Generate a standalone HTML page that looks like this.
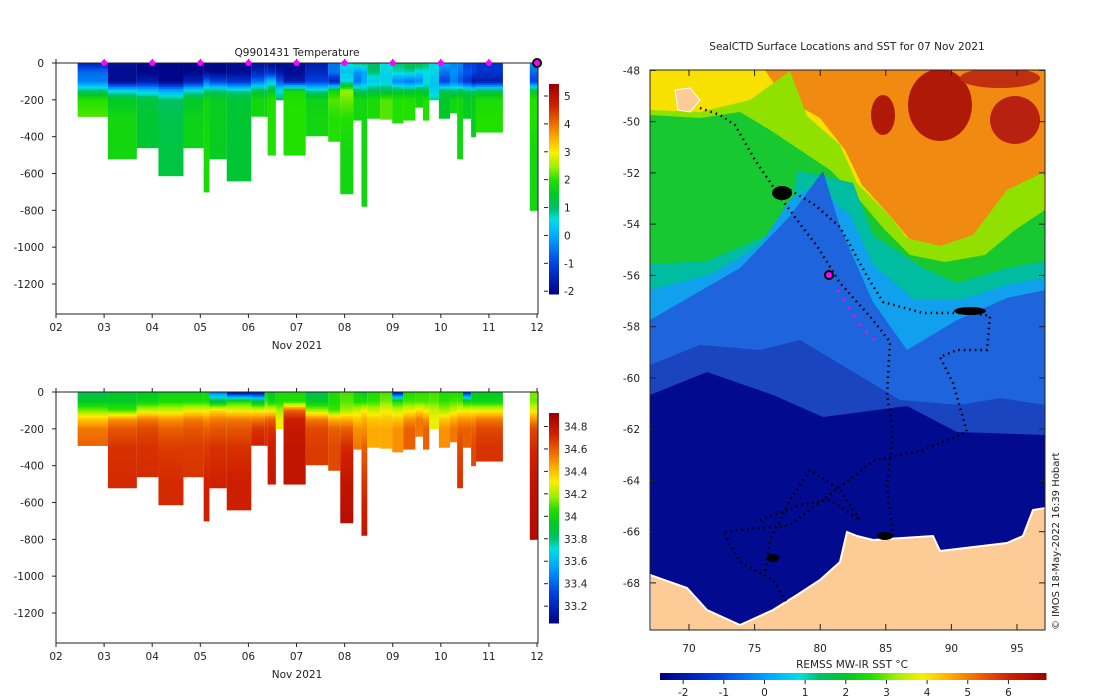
<!DOCTYPE html>
<html><head><meta charset="utf-8">
<style>
html,body{margin:0;padding:0;background:#fff;}
svg{display:block;font-family:"DejaVu Sans","Liberation Sans",sans-serif;}
text{font-size:10.5px;fill:#222;}
</style></head>
<body>
<svg id="root" width="1100" height="700" viewBox="0 0 1100 700">
<g id="map">
  <clipPath id="mapclip"><rect x="650" y="70" width="395" height="560"/></clipPath>
  <g clip-path="url(#mapclip)">
    <rect x="650" y="70" width="395" height="560" fill="#f08a10"/>
    <ellipse cx="883" cy="115" rx="12" ry="20" fill="#b01808"/>
    <ellipse cx="940" cy="105" rx="32" ry="36" fill="#b01808"/>
    <ellipse cx="1015" cy="120" rx="25" ry="24" fill="#b82010"/>
    <ellipse cx="1000" cy="78" rx="40" ry="10" fill="#c03010"/>
    <polygon fill="#f8e000" points="650,70 765,70 783,97 820,118 845,150 862,185 892,218 910,240 940,250 975,240 1008,194 1045,176 1045,630 650,630"/>
    <polygon fill="#90e000" points="650,110 700,112 750,100 790,71 807,116 840,145 857,183 890,216 907,238 940,246 973,235 1007,190 1044,172 1045,630 650,630"/>
    <polygon fill="#18c830" points="650,115 700,118 740,112 770,130 800,150 830,170 855,195 885,230 910,255 945,262 985,255 1015,230 1045,210 1045,630 650,630"/>
    <polygon fill="#00bca0" points="650,264 707,261 787,227 797,171 820,175 853,183 873,235 923,268 957,283 1007,268 1045,261 1045,630 650,630"/>
    <polygon fill="#10a0ee" points="650,290 710,275 760,245 790,200 815,185 850,215 873,265 915,300 960,300 1007,285 1045,278 1045,630 650,630"/>
    <polygon fill="#1e64dc" points="650,320 740,268 790,216 823,171 840,227 873,302 907,350 957,320 1007,298 1045,290 1045,630 650,630"/>
    <polygon fill="#1a44c0" points="650,365 700,345 760,350 800,340 850,370 900,400 960,405 1000,398 1045,405 1045,630 650,630"/>
    <polygon fill="#020a90" points="650,395 707,372 773,395 823,417 907,406 957,432 1045,435 1045,630 650,630"/>
    <polygon fill="#fccb96" stroke="#fff" stroke-width="2" points="650,575 687,588 707,610 740,625 773,610 797,595 820,580 840,562 847,532 857,536 873,540 933,536 940,551 1007,543 1023,536 1033,510 1046,508 1046,632 650,632"/>
    <polygon fill="#fccb96" stroke="#fff" stroke-width="1" points="675,90 690,88 700,100 690,112 678,110"/>
    <polyline fill="none" stroke="#000" stroke-width="2.5" stroke-dasharray="1.5 4" points="700,108 720,115 735,125 755,160 780,197 797,220 817,246 840,283 873,320 890,342 887,395 893,432 887,487 893,536"/>
    <polyline fill="none" stroke="#000" stroke-width="2.5" stroke-dasharray="1.5 4" points="790,190 815,205 840,227 867,276 883,302 923,313 973,313 990,316 987,350 957,350 940,357 953,383 967,432 923,450 873,461 840,487 790,525 723,532 740,562 773,580 787,603"/>
    <polyline fill="none" stroke="#000" stroke-width="2.5" stroke-dasharray="1.5 4" points="760,520 800,505 830,500 860,520 840,490 810,470 790,500 770,540 765,575"/>
    <ellipse cx="782" cy="193" rx="10" ry="7" fill="#000"/>
    <ellipse cx="970" cy="311" rx="16" ry="4" fill="#000"/>
    <ellipse cx="885" cy="536" rx="8" ry="4" fill="#000"/>
    <ellipse cx="773" cy="558" rx="6" ry="4" fill="#000"/>
    <circle cx="829" cy="275" r="4" fill="#ff00ff" stroke="#000" stroke-width="2"/>
    <polyline fill="none" stroke="#ff00ff" stroke-width="3" stroke-dasharray="2 8" points="838,290 850,310 860,325 880,345"/>
  </g>
  <rect x="650" y="70" width="395" height="560" fill="none" stroke="#222" stroke-width="1"/>
  <text x="847" y="50" text-anchor="middle">SealCTD Surface Locations and SST for 07 Nov 2021</text>
  <text transform="translate(1059,630) rotate(-90)" style="font-size:10px">© IMOS 18-May-2022 16:39 Hobart</text>
  <text x="852" y="668" text-anchor="middle">REMSS MW-IR SST °C</text>
</g>
<g id="charts"></g>
</svg>
<script>
const NS="http://www.w3.org/2000/svg";
const depthLevels=[0,50,100,150,200,300,500,800];
const dayTicks=["02","03","04","05","06","07","08","09","10","11","12"];
const depthTicks=[0,-200,-400,-600,-800,-1000,-1200];
const tempTicks=[5,4,3,2,1,0,-1,-2];
const salTicks=[34.8,34.6,34.4,34.2,34,33.8,33.6,33.4,33.2];
const sstTicks=[-2,-1,0,1,2,3,4,5,6];
const markerDays=[3,4,5,6,7,8,9,10,11];
const profStart=[2.45,3.08,3.68,4.13,4.65,5.07,5.19,5.55,6.06,6.34,6.4,6.57,6.73,7.19,7.66,7.91,8.18,8.35,8.47,8.74,8.99,9.22,9.47,9.63,9.76,9.96,10.19,10.34,10.46,10.63,10.73,11.85];
const profEnd=[3.08,3.68,4.13,4.65,5.07,5.19,5.55,6.06,6.34,6.4,6.57,6.73,7.19,7.66,7.91,8.18,8.35,8.47,8.74,8.99,9.22,9.47,9.63,9.76,9.96,10.19,10.34,10.46,10.63,10.73,11.29,12.02];
const profDepth=[290,520,460,612,460,700,520,640,289,290,500,200,500,395,425,710,310,778,300,305,325,310,240,310,200,300,270,520,300,400,375,800];
const tempProfiles=[
[-1.5,-0.6,-0.4,1.0,2.0,2.2],[-1.8,-1.9,-1.9,0.5,1.5,1.8,1.8],[-2,-2,-1.6,0.3,1.3,1.4,1.4],[-2,-2,-2,0,1.0,1.2,1.3],
[-2,-2,-1.5,0.6,1.5,1.7,1.7],[-2,-2,-0.5,1,1.8,1.8,1.9,1.9],[-2,-2,-1,1,1.6,1.6,1.6],[-1.9,-1.9,-1.2,0.8,1.4,1.4,1.4],
[-1.8,-1.5,-0.5,1.3,1.8,1.8],[-1.8,-1.3,0,1.0,1.8,1.8],[-1.9,-1.4,0.3,1.5,2.0,2.0,2.0],[-1.9,-1.7,-0.8,0.6,1.0],
[-1.9,-1.9,-1.6,1.8,2.0,2.0,2.0],[-1.6,-1.4,-1,0.8,1.7,1.8],[-0.5,-0.5,-1.5,1.8,2.2,2.0],[0.6,0.3,0.6,2.5,2.3,2.0,1.8,1.8],
[1.0,-0.2,-0.5,1.2,1.8,1.8],[1.0,0.0,0.0,1.0,1.8,1.8,1.8,1.8],[1.0,1.0,0.3,1.2,1.9,1.9],[0.6,0.5,0.4,1.2,2.2,2.2],
[1.0,0.7,-0.3,1.3,2.0,2.0],[1.2,0.8,-0.5,1.3,2.0,2.0],[1.3,0.5,-0.3,1.5,1.8],[1.0,0.6,0.5,1.1,2.0,2.0],
[0.5,0.5,0.3,0.4,0.8],[0.0,-0.5,-1.0,1.2,1.5,1.5],[-0.3,-0.2,-0.4,1.0,1.8,1.8],[-0.3,-0.5,-0.8,1.2,1.8,1.8,1.8],
[-1,-0.8,-1.2,1.0,1.6,1.6],[-1,-1,-1.8,1.0,1.6,1.6],[-1.2,-1.2,-1.6,1.2,1.9,2.0],[-0.2,-0.6,-1.0,1.5,2.0,2.0,1.8,1.8]];
const salProfiles=[
[33.85,33.95,34.15,34.4,34.55,34.6],[33.95,33.95,34.1,34.5,34.62,34.7,34.72],[33.95,34.0,34.25,34.55,34.65,34.7,34.72],[34.0,34.05,34.25,34.5,34.6,34.68,34.72],
[34.0,34.05,34.3,34.55,34.62,34.68,34.7],[34.0,34.05,34.3,34.5,34.6,34.68,34.74,34.74],[33.45,33.9,34.35,34.55,34.62,34.7,34.74],[33.05,34.05,34.3,34.55,34.62,34.7,34.75],
[33.1,33.9,34.3,34.55,34.7,34.75],[34.0,34.1,34.3,34.6,34.7,34.7],[33.95,34.0,34.3,34.6,34.7,34.75,34.78],[34.05,34.05,34.2,34.3,34.3],
[34.05,34.05,34.6,34.75,34.78,34.8,34.8],[33.85,33.95,34.2,34.55,34.65,34.68],[34.05,34.05,34.1,34.45,34.6,34.65],[34.1,34.12,34.2,34.45,34.6,34.72,34.8,34.85],
[34.0,34.05,34.25,34.4,34.5,34.55],[33.95,34.05,34.3,34.45,34.5,34.6,34.7,34.8],[34.05,34.08,34.25,34.4,34.45,34.45],[34.1,34.15,34.3,34.4,34.45,34.45],
[33.1,34.05,34.25,34.4,34.5,34.5],[34.05,34.1,34.3,34.5,34.6,34.6],[34.08,34.1,34.35,34.55,34.55],[34.08,34.1,34.3,34.5,34.6,34.6],
[34.1,34.12,34.25,34.3,34.3],[34.05,34.08,34.2,34.4,34.5,34.5],[34.05,34.1,34.25,34.45,34.55,34.55],[34.05,34.1,34.3,34.5,34.6,34.65,34.7],
[33.2,34.0,34.3,34.5,34.6,34.6],[33.95,34.0,34.3,34.5,34.6,34.65],[33.95,34.0,34.3,34.55,34.65,34.7],[34.15,34.15,34.3,34.5,34.65,34.72,34.8,34.85]];

const cmStops=[[0,[0,0,128]],[0.146,[0,64,224]],[0.279,[0,168,255]],[0.359,[0,224,224]],[0.412,[0,192,100]],[0.478,[0,200,40]],[0.545,[32,224,0]],[0.611,[160,240,0]],[0.677,[248,240,0]],[0.744,[255,176,0]],[0.81,[240,112,0]],[0.903,[208,32,0]],[1,[160,0,0]]];
function cmap(t){t=Math.max(0,Math.min(1,t));for(let i=1;i<cmStops.length;i++){if(t<=cmStops[i][0]){const a=cmStops[i-1],b=cmStops[i];const f=(t-a[0])/(b[0]-a[0]);const c=a[1].map((v,k)=>Math.round(v+(b[1][k]-v)*f));return `rgb(${c[0]},${c[1]},${c[2]})`;}}return "rgb(160,0,0)";}
function mk(tag,attrs,parent){const e=document.createElementNS(NS,tag);for(const k in attrs)e.setAttribute(k,attrs[k]);parent.appendChild(e);return e;}
function valAt(arr,d){const a=arr.slice();while(a.length<depthLevels.length)a.push(a[a.length-1]);for(let i=1;i<depthLevels.length;i++){if(d<=depthLevels[i]){const f=(d-depthLevels[i-1])/(depthLevels[i]-depthLevels[i-1]);return a[i-1]+(a[i]-a[i-1])*f;}}return a[a.length-1];}
const root=document.getElementById('charts');
function drawPanel(top,profiles,vmin,vmax,ticks,title,name){
  const x0=56,x1=538,y0=top,y1=top+251;
  const xs=d=>x0+(d-2)/(12.02-2)*(x1-x0);
  const ys=z=>y0+z/1363*(y1-y0);
  const g=mk('g',{},root);
  
  
  for(let p=0;p<profStart.length;p++){
    const pg=mk('g',{},g);
    
    
    for(let d=0;d<profDepth[p];d+=10){
      const v=valAt(profiles[p],d+5);
      const dd=Math.min(10,profDepth[p]-d);
      mk('rect',{x:xs(profStart[p]),y:ys(d),width:Math.max(1,xs(profEnd[p])-xs(profStart[p])),height:ys(d+dd)-ys(d)+0.5,fill:cmap((v-vmin)/(vmax-vmin))},pg);
    }
  }
  const ax=mk('rect',{x:x0,y:y0,width:x1-x0,height:y1-y0,fill:'none',stroke:'#222','stroke-width':1},g);
  
  
  dayTicks.forEach((lab,i)=>{const x=xs(2+i);
    mk('line',{x1:x,x2:x,y1:y0,y2:y0-4,stroke:'#222'},g);
    mk('line',{x1:x,x2:x,y1:y1,y2:y1+4,stroke:'#222'},g);
    const t=mk('text',{x:x,y:y1+17,'text-anchor':'middle'},g);t.textContent=lab;
    
    });
  const xl=mk('text',{x:297,y:y1+35,'text-anchor':'middle'},g);xl.textContent='Nov 2021';
  
  
  depthTicks.forEach(v=>{const y=ys(-v);
    mk('line',{x1:x0,x2:x0-4,y1:y,y2:y,stroke:'#222'},g);
    const t=mk('text',{x:x0-12,y:y+4,'text-anchor':'end'},g);t.textContent=v;
    
    });
  if(title){const t=mk('text',{x:297,y:top-7,'text-anchor':'middle'},g);t.textContent=title;
    
    
    markerDays.forEach(d=>{const c=mk('circle',{cx:xs(d),cy:y0,r:3,fill:'#ff00ff'},g);
      
      });
    const c=mk('circle',{cx:xs(12),cy:y0,r:4,fill:'#ff00ff',stroke:'#000','stroke-width':2},g);
    
    }
  const cb=mk('g',{},g);
  
  
  const cy0=top+21,cy1=top+231;
  for(let i=0;i<105;i++){mk('rect',{x:549,y:cy0+i*2,width:10,height:2.5,fill:cmap(1-i/105)},cb);}
  ticks.forEach(v=>{const y=cy1-(v-vmin)/(vmax-vmin)*(cy1-cy0);
    mk('line',{x1:544,x2:548,y1:y,y2:y,stroke:'#222'},cb);
    const t=mk('text',{x:564,y:y+4},cb);t.textContent=v;
    
    });
}
drawPanel(63,tempProfiles,-2.1,5.43,tempTicks,'Q9901431  Temperature','temperature');
drawPanel(392,salProfiles,33.05,34.92,salTicks,null,'salinity');
const mg=document.getElementById('map');
const latTicks=[-48,-50,-52,-54,-56,-58,-60,-62,-64,-66,-68];
const lonTicks=[70,75,80,85,90,95];
const latY=v=>70.4+(-48-v)/2*51.25;
const lonX=v=>689+(v-70)*13.12;
latTicks.forEach(v=>{const y=latY(v);
  mk('line',{x1:650,x2:656,y1:y,y2:y,stroke:'#222'},mg);
  mk('line',{x1:1045,x2:1039,y1:y,y2:y,stroke:'#222'},mg);
  const t=mk('text',{x:640,y:y+4,'text-anchor':'end'},mg);t.textContent=v;
  
  });
lonTicks.forEach(v=>{const x=lonX(v);
  mk('line',{x1:x,x2:x,y1:630,y2:624,stroke:'#222'},mg);
  mk('line',{x1:x,x2:x,y1:70,y2:76,stroke:'#222'},mg);
  const t=mk('text',{x:x,y:652,'text-anchor':'middle'},mg);t.textContent=v;
  
  });
const sb=mk('g',{},mg);


for(let i=0;i<193;i++){mk('rect',{x:660+i*2,y:673,width:2.5,height:7,fill:cmap(i/193)},sb);}
sstTicks.forEach(v=>{const x=660+(v+2.57)/(6.9+2.57)*385;
  mk('line',{x1:x,x2:x,y1:680,y2:684,stroke:'#222'},sb);
  const t=mk('text',{x:x,y:696,'text-anchor':'middle'},sb);t.textContent=v;
  
  });
</script>
</body></html>
